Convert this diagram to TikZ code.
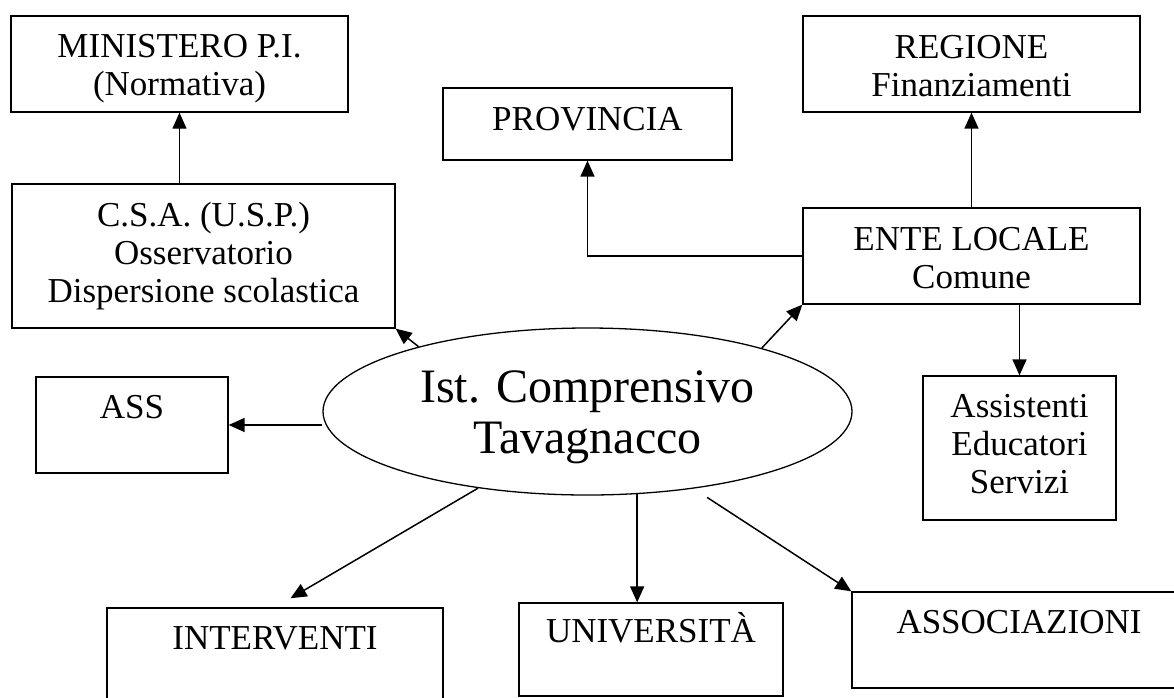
\documentclass[tikz,border=0pt]{standalone}
\usepackage{fontspec}
\setmainfont{Liberation Serif}
\usepackage{tikz}
\usetikzlibrary{arrows.meta}
\usetikzlibrary{shapes.geometric}
\newcommand{\boxfont}{\fontsize{35}{38}\selectfont}
\newcommand{\istfont}{\fontsize{48}{51}\selectfont}
\tikzset{
  box/.style={draw,rectangle,line width=1.3pt,inner sep=0pt,align=center,font=\boxfont},
  topbox/.style={box,text height=41pt,text depth=55pt},
  twobox/.style={box,text height=79pt,text depth=17pt},
  link/.style={-{Triangle[length=16pt,width=14pt]},line width=1.5pt},
}
\newcommand{\enode}{\node[box]}
\newcommand{\tnode}{\node[topbox]}

\begin{document}
\begin{tikzpicture}[x=1pt,y=-1pt]
  \useasboundingbox (0,0) rectangle (1174,697);
  % the school in the middle
  \node[ellipse,draw,line width=1.3pt,minimum width=529pt,minimum height=167pt,inner sep=0pt,align=center,font=\istfont,text height=93pt,text depth=10pt] (ist) at (587.5,411.5) {Ist. Comprensivo\\Tavagnacco};
  % left column
  \node[twobox,minimum width=337pt] (mini) at (179.5,64) {MINISTERO P.I.\\(Normativa)};
  \enode[minimum width=383pt,text height=118pt,text depth=26pt] (csa) at (203.5,256) {C.S.A. (U.S.P.)\\Osservatorio\\Dispersione scolastica};
  \tnode[minimum width=192pt] (ass) at (132,425) {ASS};
  % right column
  \enode[minimum width=289pt,text height=42pt,text depth=30pt] (prov) at (587.5,124) {PROVINCIA};
  \node[twobox,minimum width=337pt,text height=80pt,text depth=16pt] (reg) at (971.5,64) {REGIONE\\Finanziamenti};
  \node[twobox,minimum width=337pt,text height=80pt,text depth=16pt] (ente) at (971.5,256) {ENTE LOCALE\\Comune};
  \enode[minimum width=193pt,text height=117pt,text depth=27pt] (assis) at (1019.5,448) {Assistenti\\Educatori\\Servizi};
  % bottom row
  \tnode[minimum width=336pt] (inter) at (275,656) {INTERVENTI};
  \tnode[minimum width=264pt,text height=39pt,text depth=54pt] (univ) at (651,649.5) {UNIVERSITÀ};
  \tnode[minimum width=334pt] (assoc) at (1019,640) {ASSOCIAZIONI};
  %%%% links
  \draw[link,line width=1.3pt] (mini.south |- csa.north) -- (mini.south);
  \draw[link] (ist.159) -- (csa.south east);
  \draw[link] (ass.east -| ist.west) -- (ass.east);
  \draw[link] (ist.20) -- (ente.south west);
  \draw[link] (ente) -- (reg);
  \draw[link] (ente.west) -| (prov.south);
  \draw[link] (ente.south -| assis.north) -- (assis.north);
  \draw[link,shorten >=18pt] (ist.215) -- (inter.north);
  \draw[link] (ist.301) -- (ist.301 |- univ.north);
  \draw[link,shorten <=16pt] (ist.324) -- (assoc.north west);
\end{tikzpicture}
\end{document}
